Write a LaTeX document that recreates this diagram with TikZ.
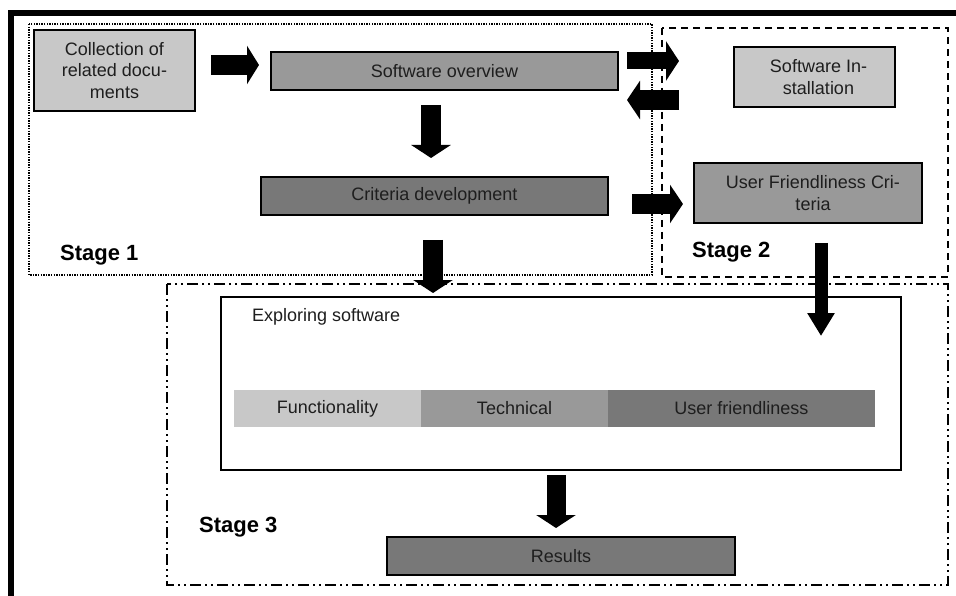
\documentclass[tikz,border=0pt]{standalone}
\usepackage{fontspec}
\setmainfont{Liberation Sans}
\usetikzlibrary{arrows.meta}
\definecolor{lg}{HTML}{C8C8C8}
\definecolor{mg}{HTML}{999999}
\definecolor{dg}{HTML}{787878}
\definecolor{tx}{HTML}{1E1E1E}
\begin{document}
\begin{tikzpicture}[x=1pt,y=-1pt,
  box/.style={draw=black, line width=1.4pt, inner sep=0pt, text=tx,
    font=\fontsize{18}{21.5}\selectfont, align=center},
  bar/.style={inner sep=0pt, text=tx, font=\fontsize{18}{21.5}\selectfont},
  stagelabel/.style={anchor=west, inner sep=0pt, font=\fontsize{22}{26}\selectfont\bfseries},
  stageone/.style={line width=2pt, dash pattern=on 1.4pt off 1.2pt},
  stagetwo/.style={line width=2pt, dash pattern=on 7pt off 5pt},
  stagethree/.style={line width=2pt, dash pattern=on 11pt off 4pt on 2pt off 4pt on 2pt off 4pt},
  fatarr/.style n args={3}{line width=#1, -{Triangle[length=#3, width=#2]}}
]
\useasboundingbox (0,0) rectangle (956,596);
% outer frame
\draw[line width=6pt, line join=miter] (11,600) -- (11,13) -- (960,13);
% stage frames
\draw[stageone] (29,24) rectangle (652,275);
\draw[stagetwo] (662,28) rectangle (948,277);
\draw[stagethree] (167,284) rectangle (948,585);
% boxes
\node[box, fill=lg, minimum width=161pt, minimum height=81pt] (coll) at (114.5,70.5)
  {Collection of\\related docu-\\ments};
\node[box, fill=mg, minimum width=347pt, minimum height=38pt] (sov) at (444.5,71) {Software overview};
\node[box, fill=dg, minimum width=347pt, minimum height=38pt] (crit) at (434.5,196) {Criteria development};
\node[box, fill=lg, minimum width=161pt, minimum height=60pt] (inst) at (814.5,77) {\hspace{8pt}Software In-\\\hspace{8pt}stallation};
\node[box, fill=mg, minimum width=228pt, minimum height=60pt] (ufc) at (808,193) {\hspace{10pt}User Friendliness Cri-\\\hspace{10pt}teria};
\node[box, fill=white, minimum width=680pt, minimum height=173pt] (expl) at (561,383.5) {};
\node[bar, anchor=west] (expllabel) at (252,317) {Exploring software};
\node[bar, fill=lg, minimum width=187pt, minimum height=37pt] (func) at (327.5,408.5) {Functionality};
\node[bar, fill=mg, minimum width=187pt, minimum height=37pt] (tech) at (514.5,408.5) {Technical};
\node[bar, fill=dg, minimum width=267pt, minimum height=37pt] (uf) at (741.5,408.5) {User friendliness};
\node[box, fill=dg, minimum width=348pt, minimum height=38pt] (res) at (561,556) {Results};
% stage labels
\node[stagelabel] (s1) at (60,255) {Stage 1};
\node[stagelabel] (s2) at (692,252) {Stage 2};
\node[stagelabel] (s3) at (199,527) {Stage 3};
% arrow end points
\coordinate (a1s) at (211,65);  \coordinate (a1e) at (259,65);
\coordinate (a2s) at (627,61);  \coordinate (a2e) at (679,61);
\coordinate (a3s) at (679,100); \coordinate (a3e) at (627,100);
\coordinate (a4s) at (431,105); \coordinate (a4e) at (431,158);
\coordinate (a5s) at (632,204); \coordinate (a5e) at (683,204);
\coordinate (a6s) at (821,243); \coordinate (a6e) at (821,336);
\coordinate (a7s) at (433,240); \coordinate (a7e) at (433,293);
\coordinate (a8s) at (556,475); \coordinate (a8e) at (556,528);
% block arrows
\draw[fatarr={20pt}{38pt}{12pt}] (a1s) -- (a1e);
\draw[fatarr={17pt}{39pt}{13pt}] (a2s) -- (a2e);
\draw[fatarr={20pt}{38pt}{13pt}] (a3s) -- (a3e);
\draw[fatarr={20pt}{39pt}{13pt}] (a4s) -- (a4e);
\draw[fatarr={20pt}{38pt}{13pt}] (a5s) -- (a5e);
\draw[fatarr={13pt}{26pt}{23pt}] (a6s) -- (a6e);
\draw[fatarr={20pt}{39pt}{13pt}] (a7s) -- (a7e);
\draw[fatarr={19pt}{39pt}{13pt}] (a8s) -- (a8e);
\end{tikzpicture}
\end{document}
